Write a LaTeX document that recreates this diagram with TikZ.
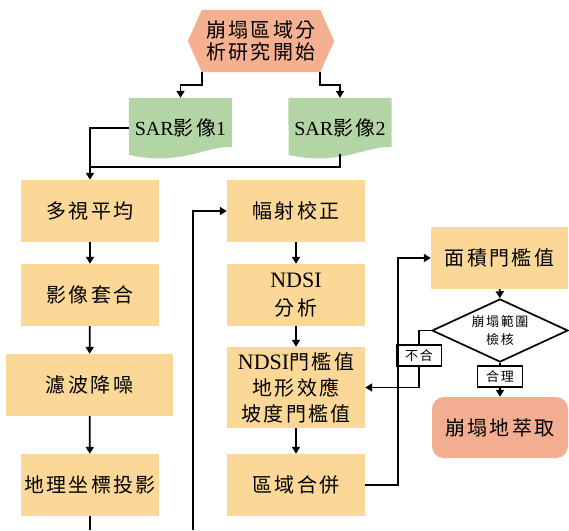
\documentclass[tikz,border=0pt]{standalone}
\usepackage{fontspec}
\setmainfont{Liberation Serif}
\newfontfamily\cjk[LetterSpace=12]{Noto Sans CJK TC}
\newfontfamily\latf{Liberation Serif}
\newcommand\lat[1]{{\latf #1}}
\newcommand\latbig[1]{{\latf\fontsize{22}{26}\selectfont #1}}
\usetikzlibrary{arrows.meta,shapes.geometric,backgrounds}
\definecolor{boxc}{HTML}{FBD898}
\definecolor{hexc}{HTML}{F5B092}
\definecolor{greenc}{HTML}{B3D5A5}
\definecolor{salc}{HTML}{F3AE92}
\newcommand\docpath[1]{\fill[greenc] (#1.north west) -- (#1.north east) -- ++(0,49)
  .. controls +(-17,0) and +(20,-4) .. ++(-47,9)
  .. controls +(-20,4) and +(16,4) .. ++(-56,-1) -- cycle;}
\begin{document}
\begin{tikzpicture}[x=1pt,y=-1pt,
  base/.style={font=\cjk\fontsize{20}{26}\selectfont,align=center,inner sep=0pt},
  box/.style={base,fill=boxc,minimum width=138,minimum height=62},
  line/.style={line width=1.7pt},
  arr/.style={line,-{Triangle[width=8pt,length=7pt]}},
  lbl/.style={base,font=\cjk\fontsize{13}{15}\selectfont,draw,line width=1.7pt,fill=white,minimum width=45,minimum height=21},
]
\useasboundingbox (0,0) rectangle (569,530);
\node[base,minimum width=118,minimum height=62,font=\cjk\fontsize{20}{22}\selectfont] (hex) at (261,41) {崩塌區域分\\析研究開始};
\node[base,minimum width=103,minimum height=60] (sar1) at (180.5,128) {\lat{SAR}影像\lat{1}};
\node[base,minimum width=103,minimum height=60] (sar2) at (340,128) {\lat{SAR}影像\lat{2}};
\node[box] (duo) at (90,211) {多視平均};
\node[box] (yx) at (90,295) {影像套合};
\node[box,minimum width=167] (lb) at (89.5,385) {濾波降噪};
\node[box] (dl) at (90,485) {地理坐標投影};
\node[box] (fs) at (296,211) {幅射校正};
\node[box,font=\cjk\fontsize{20}{28}\selectfont] (nd) at (296,295) {\latbig{NDSI}\\分析};
\node[box,minimum height=81] (th) at (296,387.5) {\latbig{NDSI}門檻值\\地形效應\\坡度門檻值};
\node[box] (qy) at (296,485) {區域合併};
\node[box,minimum width=137] (mj) at (499.5,258) {面積門檻值};
\node[diamond,draw,line width=1.7pt,fill=white,minimum width=136,minimum height=63,inner sep=0pt] (dia) at (500,330.5) {};
\node[base,font=\cjk\fontsize{13}{18}\selectfont] (diat) at (dia) {崩塌範圍\\檢核};
\node[lbl] (bh) at (419,355.5) {不合};
\node[lbl] (hl) at (500,376.5) {合理};
\node[box,fill=salc,rounded corners=12pt,minimum width=136,minimum height=61] (bd) at (500,427.5) {崩塌地萃取};
\coordinate (j1) at (90,167);
\coordinate (e1) at (90,530);
\coordinate (e2) at (193,530);
\begin{pgfonlayer}{background}
\fill[hexc] (hex.north west) -- (hex.north east) -- ([xshift=14pt]hex.east) -- (hex.south east) -- (hex.south west) -- ([xshift=-14pt]hex.west) -- cycle;
\docpath{sar1}
\docpath{sar2}
\end{pgfonlayer}
\draw[arr] (hex.south west) -- ++(0,13) -| (sar1.north);
\draw[arr] (hex.south east) -- ++(0,13) -| (sar2.north);
\draw[arr] (sar1.west) -| (duo.north);
\draw[line] ([yshift=4pt]sar2.south) |- (j1);
\draw[arr] (duo) -- (yx);
\draw[arr] (yx) -- (lb);
\draw[arr] (lb) -- (dl);
\draw[line] (dl) -- (e1);
\draw[arr] (e2) |- (fs.west);
\draw[arr] (fs) -- (nd);
\draw[arr] (nd) -- (th);
\draw[arr] (th) -- (qy);
\draw[arr] (qy.east) -- ++(33,0) |- (mj.west);
\draw[arr] (mj) -- (dia);
\draw[line] (dia.west) -| (bh.north);
\draw[arr] (bh.south) |- (th.east);
\draw[line] (dia.south) -- (hl.north);
\draw[arr] (hl.south) -- (bd.north);
\end{tikzpicture}
\end{document}
